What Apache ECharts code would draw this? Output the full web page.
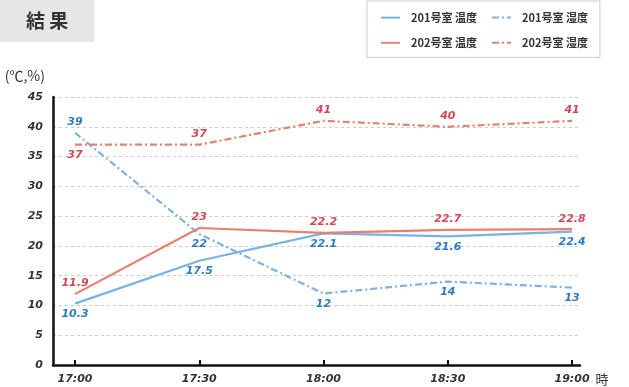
<!DOCTYPE html>
<html><head><meta charset="utf-8">
<script src="https://cdn.jsdelivr.net/npm/echarts@6/dist/echarts.min.js"></script>
<style>html,body{margin:0;padding:0;background:#fff}#c{width:629px;height:387px}</style>
</head><body><div id="c"></div>
<script>
const categories = ['17:00', '17:30', '18:00', '18:30', '19:00'];
const temp201 = [10.3, 17.5, 22.1, 21.6, 22.4];
const hum201 = [39, 22, 12, 14, 13];
const temp202 = [11.9, 23, 22.2, 22.7, 22.8];
const hum202 = [37, 37, 41, 40, 41];
const seriesNames = ['201号室 温度', '201号室 湿度', '202号室 温度', '202号室 湿度'];
const titleText = '結 果';
const yName = '(℃,%)';
const xName = '時';

const BLUE = '#7ab2e1', RED = '#e8806f', BLUE_T = '#2b7cc4', RED_T = '#d0485a';
const DASHDOT = [7, 3, 2, 3];
const lblFont = { fontFamily: 'DejaVu Sans', fontStyle: 'italic', fontWeight: 'bold', fontSize: 11 };

function mk(name, values, color, textColor, dashed, pos, firstPos) {
  return {
    name: name, type: 'line', symbol: 'circle', symbolSize: 2, showSymbol: true, z: dashed ? 3 : 4,
    lineStyle: { color: color, width: 2.2, type: dashed ? DASHDOT : 'solid' },
    itemStyle: { color: color, opacity: 0 },
    data: values.map((v, i) => {
      const d = { value: [i, v] };
      if (i === 0 && firstPos) d.label = { position: firstPos };
      return d;
    }),
    label: Object.assign({ show: true, position: pos, distance: 4, color: textColor, opacity: 1,
      formatter: p => String(p.value[1]) }, lblFont)
  };
}

const chart = echarts.init(document.getElementById('c'), null, { renderer: 'canvas' });
chart.setOption({
  animation: false,
  title: {
    text: titleText, left: 0, top: 0, padding: [11, 26, 11, 26],
    backgroundColor: '#e6e6e6',
    textStyle: { fontSize: 19, fontWeight: 'bold', color: '#333', fontFamily: 'Noto Sans CJK JP', lineHeight: 20 }
  },
  legend: {
    left: 367, top: 1, width: 240, orient: 'horizontal',
    borderColor: '#cccccc', borderWidth: 1, padding: [11, 12, 9, 13],
    itemWidth: 19, itemHeight: 14, itemGap: 14,
    itemStyle: { opacity: 0 },
    data: seriesNames,
    textStyle: { fontSize: 11, fontWeight: 'bold', color: '#333', fontFamily: 'Noto Sans CJK JP', width: 81, padding: [0, 0, 0, 6] }
  },
  grid: { left: 53, right: 49, top: 97, bottom: 22, containLabel: false },
  xAxis: {
    type: 'value', min: -0.177, max: 4.064,
    name: xName, nameLocation: 'end', nameGap: 2,
    nameTextStyle: { fontSize: 13, color: '#333', fontFamily: 'Noto Sans CJK JP', verticalAlign: 'top', padding: [8, 0, 0, 0] },
    axisLine: { show: true, lineStyle: { color: '#111', width: 2.5 } },
    axisTick: { show: true, inside: true, length: 5, customValues: categories.map((c, i) => i), lineStyle: { color: '#111', width: 2 } },
    axisLabel: Object.assign({ customValues: categories.map((c, i) => i), color: '#333', margin: 9,
      formatter: v => categories[Math.round(v)] }, lblFont),
    splitLine: { show: false }
  },
  yAxis: {
    type: 'value', min: 0, max: 45, interval: 5,
    name: yName, nameLocation: 'end', nameGap: 14,
    nameTextStyle: { fontSize: 14, color: '#333', fontFamily: 'Noto Sans CJK JP', align: 'right', padding: [0, 8, 0, 0] },
    axisLine: { show: true, onZero: false, lineStyle: { color: '#111', width: 2.5 } },
    axisTick: { show: false },
    axisLabel: Object.assign({ color: '#333', margin: 10 }, lblFont),
    splitLine: { show: true, lineStyle: { color: '#cccccc', width: 1, type: [3, 3] } }
  },
  series: [
    mk(seriesNames[0], temp201, BLUE, BLUE_T, false, 'bottom'),
    mk(seriesNames[1], hum201, BLUE, BLUE_T, true, 'bottom', 'top'),
    mk(seriesNames[2], temp202, RED, RED_T, false, 'top'),
    mk(seriesNames[3], hum202, RED, RED_T, true, 'top', 'bottom')
  ]
});
</script></body></html>
